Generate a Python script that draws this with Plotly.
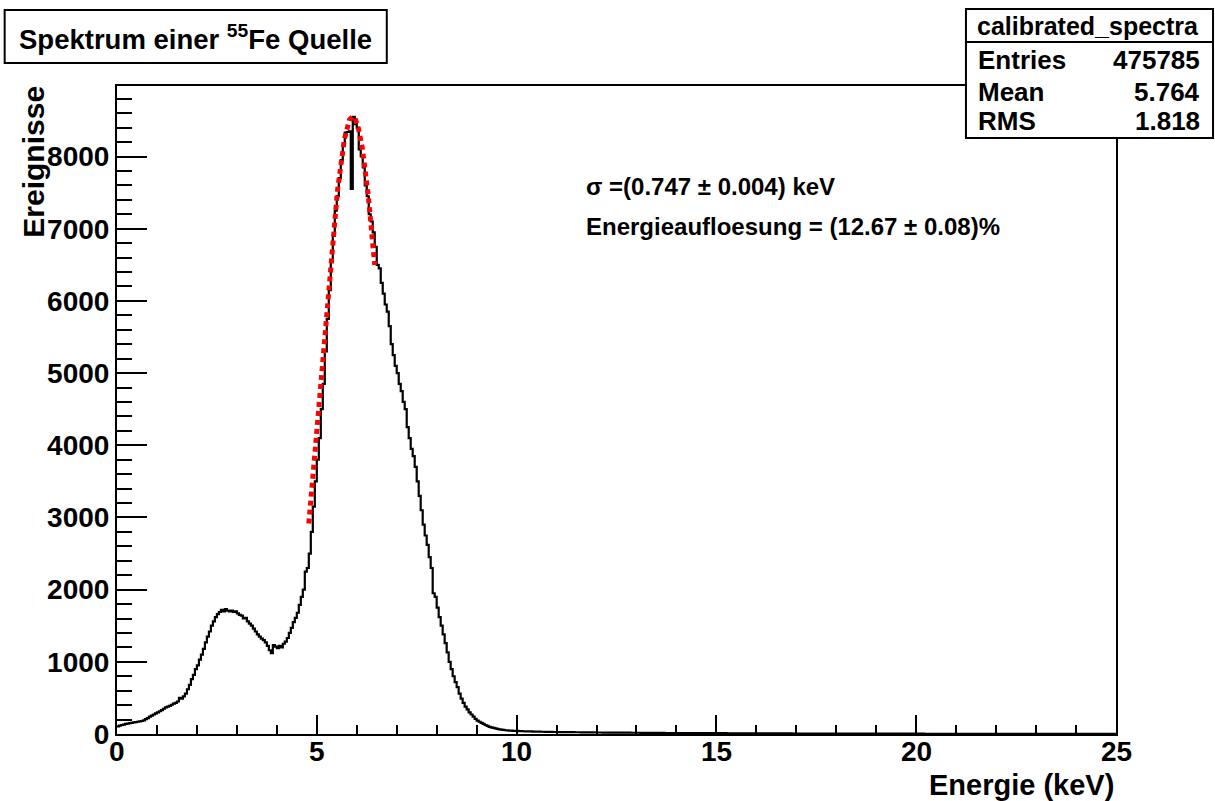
import numpy as np
import plotly.graph_objects as go

# ---------------- data ----------------
bin_start = 0.0
bin_width = 0.05  # keV

counts_0_10 = [
    105, 115, 125, 130, 140, 145, 150, 155, 160, 165,
    170, 175, 180, 190, 205, 220, 240, 255, 270, 285,
    300, 315, 330, 350, 370, 380, 390, 405, 420, 430,
    450, 500, 490, 520, 560, 620, 680, 760, 820, 900,
    950, 1030, 1100, 1180, 1270, 1350, 1420, 1500, 1560, 1620,
    1660, 1690, 1720, 1700, 1730, 1710, 1700, 1710, 1690, 1700,
    1670, 1650, 1640, 1600, 1610, 1560, 1530, 1500, 1460, 1420,
    1380, 1350, 1320, 1300, 1270, 1220, 1160, 1120, 1230, 1210,
    1190, 1220, 1200, 1250, 1280, 1330, 1400, 1470, 1550, 1610,
    1680, 1790, 1900, 2000, 2250, 2300, 2500, 2800, 3150, 3500,
    3800, 4100, 4500, 4850, 5300, 5750, 6150, 6550, 6900, 7250,
    7450, 7700, 7950, 8150, 8330, 8340, 8350, 7550, 8550, 8450,
    8400, 8100, 8000, 7850, 7600, 7450, 7200, 7100, 6950, 6750,
    6500, 6450, 6250, 6100, 5950, 5850, 5650, 5400, 5250, 5100,
    5000, 4850, 4750, 4600, 4500, 4250, 4100, 3950, 3850, 3700,
    3500, 3300, 3100, 2900, 2750, 2620, 2450, 2300, 1950, 1900,
    1750, 1620, 1500, 1380, 1260, 1130, 1000, 900, 800, 720,
    650, 560, 490, 430, 380, 340, 300, 270, 240, 210,
    185, 170, 155, 140, 125, 112, 100, 92, 85, 78,
    70, 65, 60, 57, 52, 50, 48, 46, 44, 42,
]
counts_10_25 = [
    42, 40, 39, 38, 37, 36, 36, 35, 34, 33, 33, 32, 31, 31, 30, 30, 29, 29, 28, 28,
    28, 27, 27, 26, 26, 26, 25, 25, 25, 24, 24, 24, 23, 23, 23, 22, 22, 22, 22, 21,
    21, 21, 21, 20, 20, 20, 20, 19, 19, 19, 19, 19, 18, 18, 18, 18, 18, 17, 17, 17,
    17, 17, 16, 16, 16, 16, 16, 16, 15, 15, 15, 15, 15, 15, 14, 14, 14, 14, 14, 14,
    14, 13, 13, 13, 13, 13, 13, 13, 12, 12, 12, 12, 12, 12, 12, 12, 11, 11, 11, 11,
    11, 11, 11, 11, 11, 10, 10, 10, 10, 10, 10, 10, 10, 10, 10, 9, 9, 9, 9, 9,
    9, 9, 9, 9, 9, 9, 8, 8, 8, 8, 8, 8, 8, 8, 8, 8, 8, 8, 7, 7,
    7, 7, 7, 7, 7, 7, 7, 7, 7, 7, 7, 6, 6, 6, 6, 6, 6, 6, 6, 6,
    6, 6, 6, 6, 6, 6, 6, 6, 5, 5, 5, 5, 5, 5, 5, 5, 5, 5, 5, 5,
    5, 5, 5, 5, 5, 5, 4, 4, 4, 4, 4, 4, 4, 4, 4, 4, 4, 4, 4, 4,
    4, 4, 4, 4, 3, 3, 3, 3, 3, 3, 3, 3, 3, 3, 3, 3, 3, 3, 3, 3,
    3, 3, 3, 2, 2, 2, 2, 2, 2, 2, 2, 2, 2, 2, 2, 2, 2, 2, 2, 2,
    2, 2, 2, 2, 2, 2, 2, 2, 1, 1, 1, 1, 1, 1, 1, 1, 1, 1, 1, 1,
    1, 1, 1, 1, 1, 1, 1, 1, 1, 1, 1, 1, 1, 1, 1, 1, 1, 1, 1, 1,
    1, 1, 1, 1, 1, 1, 1, 1, 1, 1, 1, 1, 1, 1, 1, 1, 1, 1, 1, 1,
]

# Gaussian fit parameters
fit_const = 8554
fit_mean = 5.896
fit_sigma = 0.747
fit_range = [4.8, 6.45]

x_ticks = [0, 5, 10, 15, 20, 25]
y_ticks = [0, 1000, 2000, 3000, 4000, 5000, 6000, 7000, 8000]

title_text = "Spektrum einer <sup>55</sup>Fe Quelle"
stats_name = "calibrated_spectra"
stats_rows = [("Entries", "475785"), ("Mean", "5.764"), ("RMS", "1.818")]
fit_lines = ["σ =(0.747 ± 0.004) keV", "Energieaufloesung = (12.67 ± 0.08)%"]

# ---------------- build ----------------
counts = counts_0_10 + counts_10_25
edges = bin_start + bin_width * np.arange(len(counts) + 1)
y_step = counts + [counts[-1]]

xf = np.linspace(fit_range[0], fit_range[1], 200)
yf = fit_const * np.exp(-0.5 * ((xf - fit_mean) / fit_sigma) ** 2)

W, H = 1215, 801
L, R, T, B = 117.3, 1116.0, 86.0, 734.5
ymax = 8977


def px(x):
    return (x - L) / (R - L)


def py(y):
    return (B - y) / (B - T)


FONT = "Liberation Sans"

fig = go.Figure()
fig.add_trace(go.Scatter(x=edges, y=y_step, mode="lines", line_shape="hv",
                         line=dict(color="black", width=2.2), hoverinfo="skip",
                         showlegend=False))
fig.add_trace(go.Scatter(x=xf, y=yf, mode="lines",
                         line=dict(color="#ff0000", width=5, dash="5px,4px"),
                         hoverinfo="skip", showlegend=False))

axis_common = dict(showgrid=False, zeroline=False, showline=True, linecolor="black",
                   linewidth=2, mirror=True, ticks="inside", tickcolor="black",
                   tickwidth=2)

fig.update_xaxes(range=[0, 25], tickvals=x_ticks, ticklen=19, showticklabels=False,
                 minor=dict(ticks="inside", ticklen=9, dtick=1, tickcolor="black",
                            tickwidth=2),
                 **axis_common)
fig.update_yaxes(range=[0, ymax], tickvals=y_ticks, ticklen=30,
                 tickfont=dict(family=FONT, size=28, color="black", weight="bold"),
                 minor=dict(ticks="inside", ticklen=15, dtick=200, tickcolor="black",
                            tickwidth=2),
                 **axis_common)

shapes = []
annotations = []

# x tick labels placed on the x scale
for v in x_ticks:
    annotations.append(dict(text="<b>%d</b>" % v, xref="x", yref="paper",
                            x=v, y=py(752), xanchor="center", yanchor="middle",
                            showarrow=False,
                            font=dict(family=FONT, size=28, color="black")))

# title box
shapes.append(dict(type="rect", xref="paper", yref="paper",
                   x0=px(5), x1=px(387), y0=py(63), y1=py(10),
                   line=dict(color="black", width=2), fillcolor="white", layer="above"))
annotations.append(dict(text="<b>" + title_text + "</b>", xref="paper", yref="paper",
                        x=px(196), y=py(37), xanchor="center", yanchor="middle",
                        showarrow=False,
                        font=dict(family=FONT, size=27.5, color="black")))

# stats box
shapes.append(dict(type="rect", xref="paper", yref="paper",
                   x0=px(966), x1=px(1213), y0=py(138), y1=py(9),
                   line=dict(color="black", width=2), fillcolor="white", layer="above"))
shapes.append(dict(type="line", xref="paper", yref="paper",
                   x0=px(966), x1=px(1213), y0=py(42), y1=py(42),
                   line=dict(color="black", width=2), layer="above"))
annotations.append(dict(text="<b>" + stats_name + "</b>", xref="paper", yref="paper",
                        x=px(1088), y=py(26), xanchor="center", yanchor="middle",
                        showarrow=False, font=dict(family=FONT, size=25, color="black")))
for i, (k, v) in enumerate(stats_rows):
    yy = [60, 92, 121][i]
    annotations.append(dict(text="<b>" + k + "</b>", xref="paper", yref="paper",
                            x=px(976), y=py(yy), xanchor="left", yanchor="middle",
                            showarrow=False, font=dict(family=FONT, size=26, color="black")))
    annotations.append(dict(text="<b>" + v + "</b>", xref="paper", yref="paper",
                            x=px(1202), y=py(yy), xanchor="right", yanchor="middle",
                            showarrow=False, font=dict(family=FONT, size=26, color="black")))

# fit result text
for i, t in enumerate(fit_lines):
    annotations.append(dict(text="<b>" + t + "</b>", xref="paper", yref="paper",
                            x=px(584), y=py([187, 227][i]), xanchor="left",
                            yanchor="middle", showarrow=False,
                            font=dict(family=FONT, size=24, color="black")))

# axis titles
annotations.append(dict(text="<b>Energie (keV)</b>", xref="paper", yref="paper",
                        x=px(1116), y=py(786), xanchor="right", yanchor="middle",
                        showarrow=False, font=dict(family=FONT, size=29, color="black")))
annotations.append(dict(text="<b>Ereignisse</b>", xref="paper", yref="paper",
                        x=px(33), y=py(84), xanchor="center", yanchor="top",
                        textangle=-90, showarrow=False,
                        font=dict(family=FONT, size=30, color="black")))

fig.update_layout(width=W, height=H,
                  margin=dict(l=L, r=W - R, t=T, b=H - B, pad=0),
                  paper_bgcolor="white", plot_bgcolor="white",
                  shapes=shapes, annotations=annotations, showlegend=False)

fig.write_html("out.html", config={"displayModeBar": False})
